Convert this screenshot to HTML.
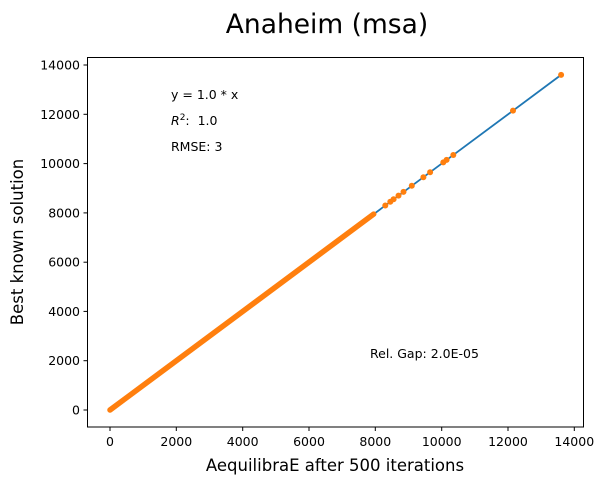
<!DOCTYPE html>
<html><head><meta charset="utf-8"><style>
html,body{margin:0;padding:0;background:#fff;}
svg{display:block;font-family:"DejaVu Sans","Liberation Sans",sans-serif;}
</style></head><body>
<svg width="605" height="484" viewBox="0 0 605 484" xmlns="http://www.w3.org/2000/svg">
<rect width="605" height="484" fill="#fff"/>
<text x="327" y="33" font-size="26.5" text-anchor="middle" fill="#000">Anaheim (msa)</text>
<line x1="110" y1="410" x2="561.1" y2="74.9" stroke="#1f77b4" stroke-width="1.8"/>
<g fill="#ff7f0e">
<line x1="110" y1="410" x2="373.7" y2="214.1" stroke="#ff7f0e" stroke-width="5.5" stroke-linecap="round"/>
<circle cx="385.3" cy="205.5" r="3"/>
<circle cx="390.3" cy="201.8" r="3"/>
<circle cx="393.6" cy="199.3" r="3"/>
<circle cx="398.5" cy="195.6" r="3"/>
<circle cx="403.5" cy="191.9" r="3"/>
<circle cx="411.8" cy="185.8" r="3"/>
<circle cx="423.4" cy="177.2" r="3"/>
<circle cx="430.1" cy="172.2" r="3"/>
<circle cx="443.3" cy="162.4" r="3"/>
<circle cx="446.6" cy="159.9" r="3"/>
<circle cx="453.3" cy="155.0" r="3"/>
<circle cx="513.0" cy="110.6" r="3"/>
<circle cx="561.1" cy="74.9" r="3"/>
</g>
<rect x="87.5" y="57.5" width="496" height="369.5" fill="none" stroke="#000" stroke-width="1"/>
<g stroke="#000" stroke-width="1">
<line x1="110" y1="427" x2="110" y2="431"/>
<line x1="176.3" y1="427" x2="176.3" y2="431"/>
<line x1="242.7" y1="427" x2="242.7" y2="431"/>
<line x1="309" y1="427" x2="309" y2="431"/>
<line x1="375.3" y1="427" x2="375.3" y2="431"/>
<line x1="441.7" y1="427" x2="441.7" y2="431"/>
<line x1="508" y1="427" x2="508" y2="431"/>
<line x1="574.3" y1="427" x2="574.3" y2="431"/>
<line x1="83.5" y1="410" x2="87.5" y2="410"/>
<line x1="83.5" y1="360.7" x2="87.5" y2="360.7"/>
<line x1="83.5" y1="311.4" x2="87.5" y2="311.4"/>
<line x1="83.5" y1="262.2" x2="87.5" y2="262.2"/>
<line x1="83.5" y1="212.9" x2="87.5" y2="212.9"/>
<line x1="83.5" y1="163.6" x2="87.5" y2="163.6"/>
<line x1="83.5" y1="114.3" x2="87.5" y2="114.3"/>
<line x1="83.5" y1="65" x2="87.5" y2="65"/>
</g>
<g font-size="12.5" fill="#000" text-anchor="middle">
<text x="110" y="446">0</text>
<text x="176.3" y="446">2000</text>
<text x="242.7" y="446">4000</text>
<text x="309" y="446">6000</text>
<text x="375.3" y="446">8000</text>
<text x="441.7" y="446">10000</text>
<text x="508" y="446">12000</text>
<text x="574.3" y="446">14000</text>
</g>
<g font-size="12.5" fill="#000" text-anchor="end">
<text x="80" y="414.5">0</text>
<text x="80" y="365.2">2000</text>
<text x="80" y="315.9">4000</text>
<text x="80" y="266.7">6000</text>
<text x="80" y="217.4">8000</text>
<text x="80" y="168.1">10000</text>
<text x="80" y="118.8">12000</text>
<text x="80" y="69.5">14000</text>
</g>
<text x="335" y="471" font-size="16.5" text-anchor="middle" fill="#000">AequilibraE after 500 iterations</text>
<text transform="translate(23,242) rotate(-90)" font-size="16.5" text-anchor="middle" fill="#000">Best known solution</text>
<g font-size="12.5" fill="#000">
<text x="171" y="99">y = 1.0 * x</text>
<text x="171" y="125"><tspan font-style="italic">R</tspan><tspan font-size="9" dy="-5">2</tspan><tspan dy="5">:&#160;&#160;1.0</tspan></text>
<text x="171" y="151">RMSE: 3</text>
<text x="370" y="358">Rel. Gap: 2.0E-05</text>
</g>
</svg>
</body></html>
